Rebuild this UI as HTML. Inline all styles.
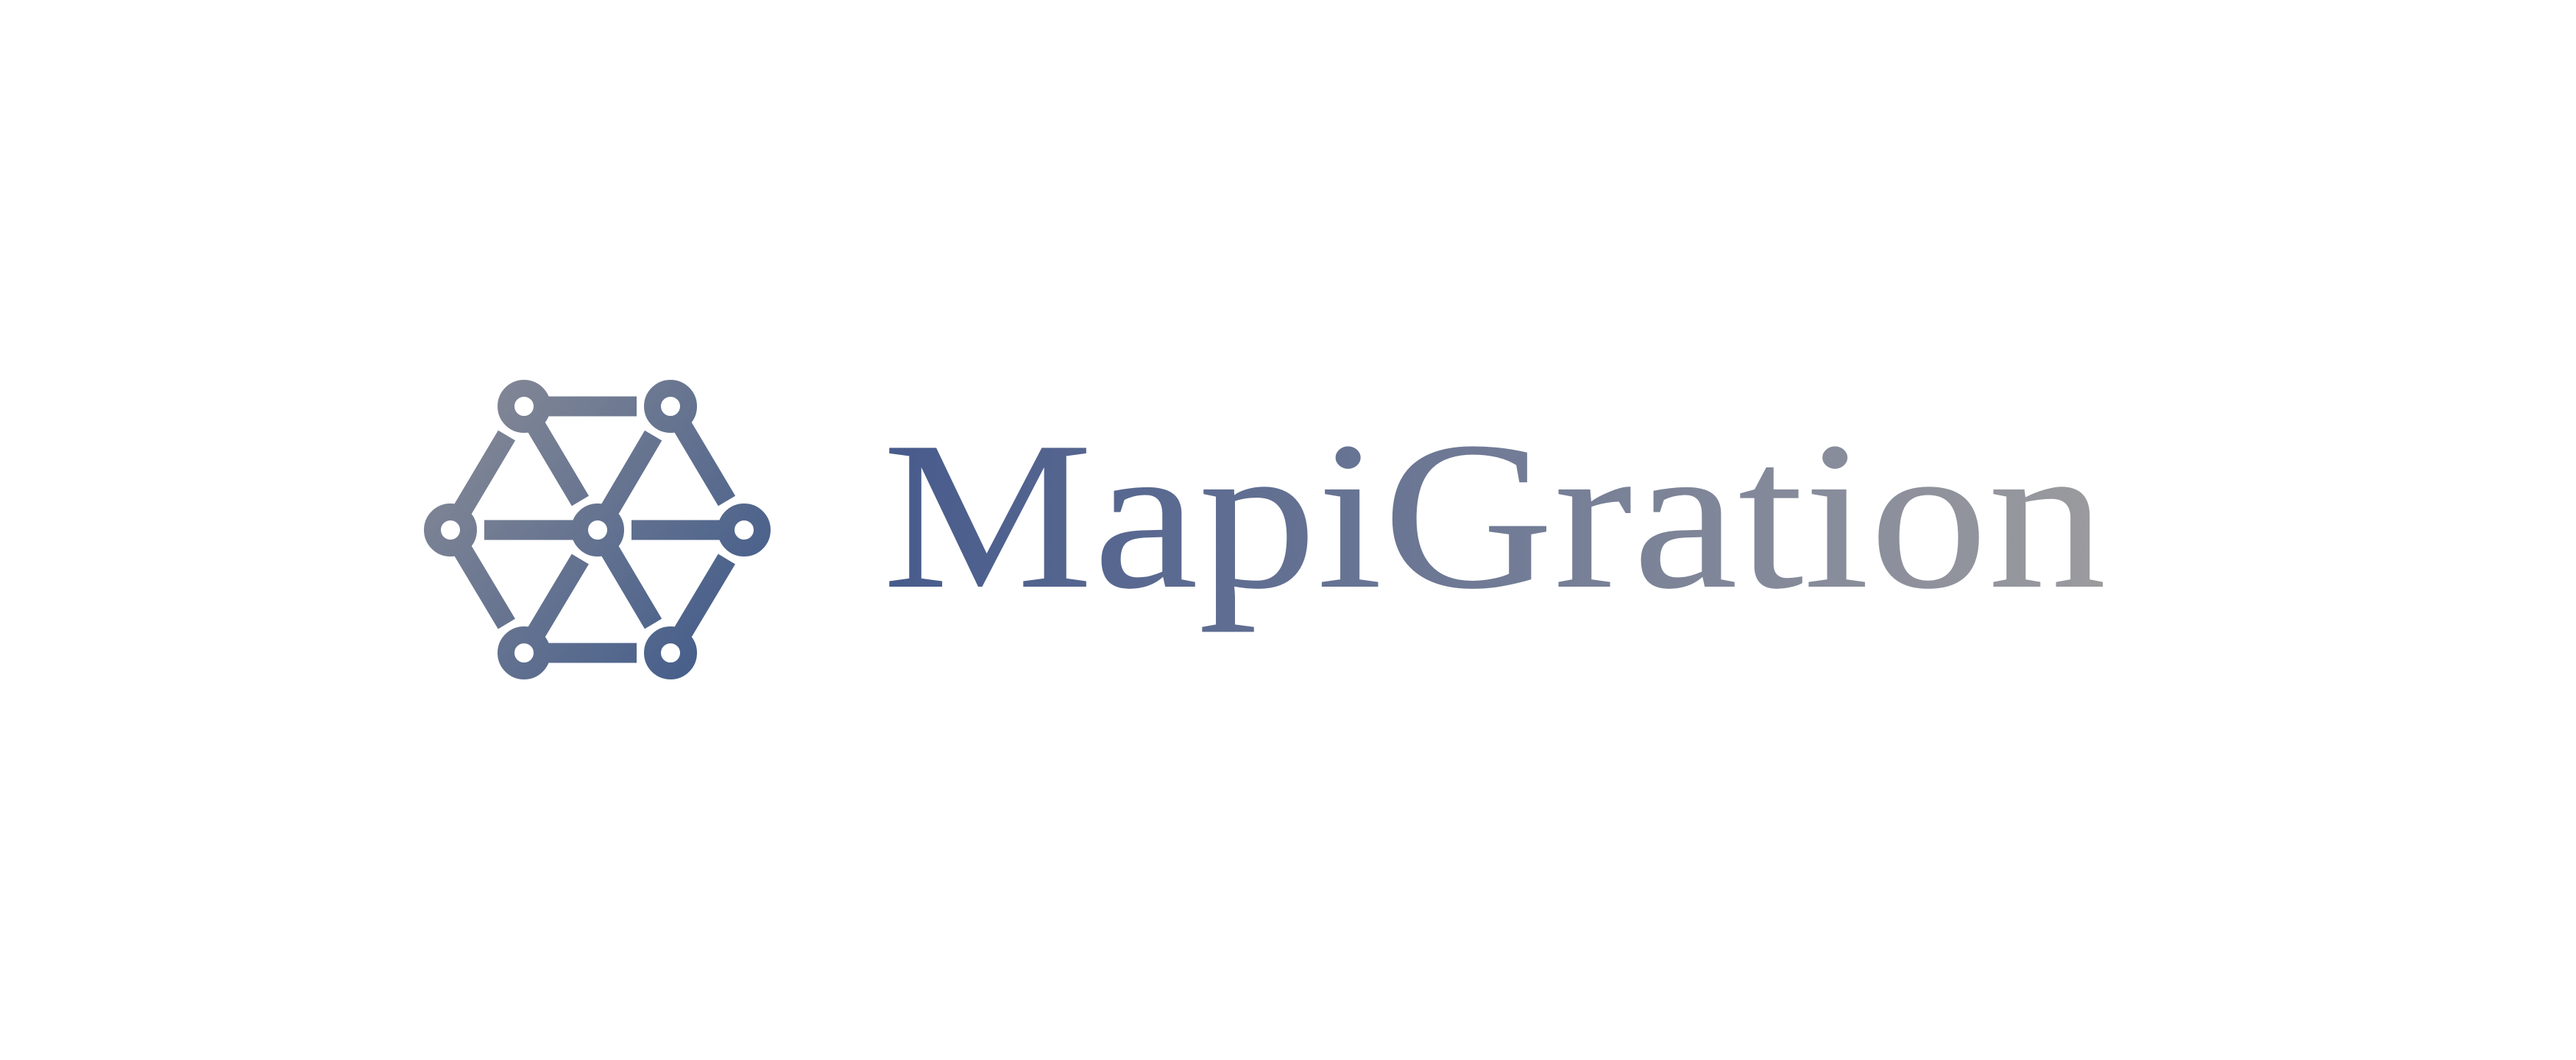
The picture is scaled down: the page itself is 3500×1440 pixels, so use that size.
<!DOCTYPE html>
<html><head><meta charset="utf-8"><style>
html,body{margin:0;padding:0;background:#fff;}
svg{display:block;}
</style></head><body>
<svg width="3500" height="1440" viewBox="0 0 3500 1440">
<defs>
<linearGradient id="ig" gradientUnits="userSpaceOnUse" x1="576" y1="520" x2="1047" y2="920">
<stop offset="0" stop-color="#8b8d97"/><stop offset="1" stop-color="#3d5889"/></linearGradient>
<linearGradient id="tg" gradientUnits="userSpaceOnUse" x1="1199" y1="0" x2="2862" y2="0">
<stop offset="0" stop-color="#475b8c"/><stop offset="1" stop-color="#9b9b9f"/></linearGradient>
</defs>
<rect width="3500" height="1440" fill="#fff"/>
<g id="icon"></g>
<text x="1199" y="797" font-family="'Liberation Serif', serif" font-size="288" fill="url(#tg)" textLength="1663" lengthAdjust="spacingAndGlyphs">MapiGration</text>
</svg>
<script>
const N={TL:[712,552],TR:[911,552],L:[612,720],C:[812,720],R:[1011,720],BL:[712,887],BR:[911,887]};
// [attached, gapped]
const E=[["TL","TR"],["TL","C"],["L","TL"],["C","TR"],["TR","R"],["C","L"],["R","C"],["L","BL"],["BL","C"],["C","BR"],["BR","R"],["BL","BR"]];
const g=document.getElementById('icon');
const ns='http://www.w3.org/2000/svg';
E.forEach(([a,b])=>{
  const [x1,y1]=N[a],[x2,y2]=N[b];
  const dx=x2-x1,dy=y2-y1,len=Math.hypot(dx,dy),gap=46;
  const ex=x2-dx/len*gap,ey=y2-dy/len*gap;
  const l=document.createElementNS(ns,'line');
  
  
  l.setAttribute('x1',x1);l.setAttribute('y1',y1);l.setAttribute('x2',ex);l.setAttribute('y2',ey);
  l.setAttribute('stroke','url(#ig)');l.setAttribute('stroke-width','27');
  g.appendChild(l);
});
Object.values(N).forEach(([x,y])=>{
  const c=document.createElementNS(ns,'circle');
  
  
  c.setAttribute('cx',x);c.setAttribute('cy',y);c.setAttribute('r','24.5');
  c.setAttribute('fill','#fff');c.setAttribute('stroke','url(#ig)');c.setAttribute('stroke-width','23');
  g.appendChild(c);
});
</script>
</body></html>
